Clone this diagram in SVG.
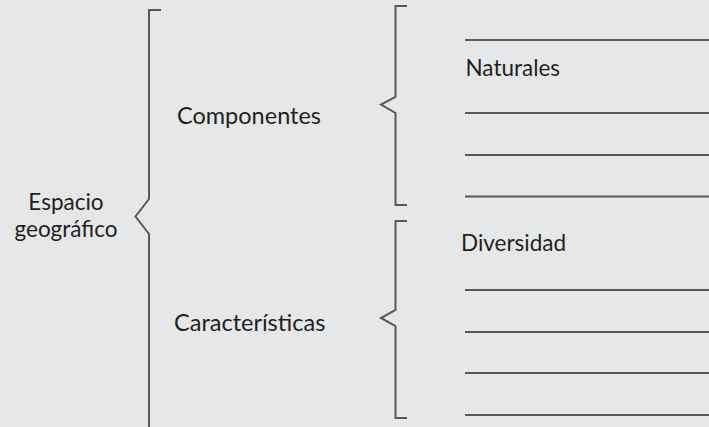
<svg xmlns="http://www.w3.org/2000/svg" width="709" height="427" viewBox="0 0 709 427">
<style>
.t{font-family:Lato,"Open Sans","Liberation Sans",sans-serif;font-size:22.5px;fill:#231f20}
.m{font-size:23.5px}
.b{fill:none;stroke:#58595b;stroke-width:2;stroke-linejoin:miter}
.l{stroke:#58595b;stroke-width:2}
</style>
<rect width="709" height="427" fill="#e6e7e8"/>
<g id="espacio">
<text class="t" x="66" y="210" text-anchor="middle">Espacio</text>
<text class="t" x="66" y="237" text-anchor="middle">geográfico</text>
</g>
<g id="componentes"><text class="t m" x="177" y="124">Componentes</text></g>
<g id="caracteristicas"><text class="t m" x="174" y="331">Características</text></g>
<g id="naturales"><text class="t" x="465.5" y="76">Naturales</text></g>
<g id="diversidad"><text class="t" x="461" y="251">Diversidad</text></g>
<g id="connectors">
<path class="b" d="M161,10 H149 V199 L135.5,216.5 L149,234 V430"/>
<path class="b" d="M407,6 H395.5 V97 L381,104.5 L395.5,113 V205 H407"/>
<path class="b" d="M407,221 H395.5 V310 L381,318 L395.5,326 V418 H407"/>
<line class="l" x1="465" y1="40" x2="709" y2="40"/>
<line class="l" x1="465" y1="113" x2="709" y2="113"/>
<line class="l" x1="465" y1="155" x2="709" y2="155"/>
<line class="l" x1="465" y1="196.5" x2="709" y2="196.5"/>
<line class="l" x1="465" y1="290" x2="709" y2="290"/>
<line class="l" x1="465" y1="332" x2="709" y2="332"/>
<line class="l" x1="465" y1="373" x2="709" y2="373"/>
<line class="l" x1="465" y1="415" x2="709" y2="415"/>
</g>
</svg>
